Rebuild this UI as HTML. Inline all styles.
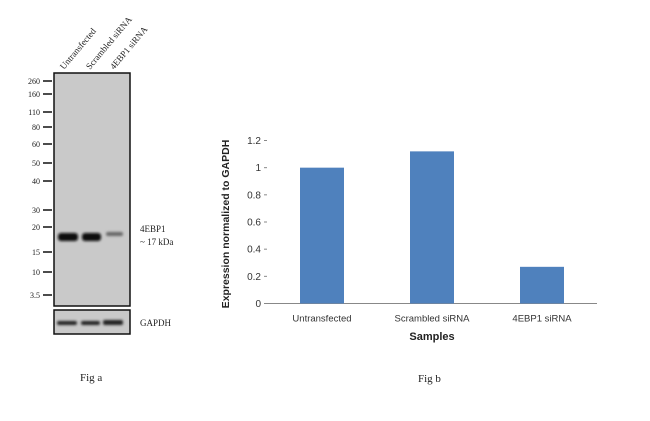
<!DOCTYPE html>
<html><head><meta charset="utf-8"><style>
body{margin:0;background:#fff;width:650px;height:421px;overflow:hidden;position:relative;font-family:"Liberation Serif",serif}
.a{position:absolute}
</style></head><body>
<svg class="a" style="left:0;top:0" width="650" height="421">
<defs><filter id="bl"><feGaussianBlur stdDeviation="1.3"/></filter></defs>
<g font-family="Liberation Serif, serif" font-size="9" fill="#222">
<text transform="translate(64,70) rotate(-50)">Untransfected</text>
<text transform="translate(90,70) rotate(-50)">Scrambled siRNA</text>
<text transform="translate(114,70) rotate(-50)">4EBP1 siRNA</text>
<rect x="54" y="73" width="76" height="233" fill="#c9c9c9" stroke="#111" stroke-width="1.5"/>
<rect x="54" y="310" width="76" height="24" fill="#c9c9c9" stroke="#111" stroke-width="1.5"/>
<g id="markers"></g>
<g filter="url(#bl)">
<rect x="58" y="233" width="20" height="8" rx="3" fill="#111"/>
<rect x="82" y="233" width="19" height="8" rx="3" fill="#111"/>
<rect x="106" y="232" width="17" height="4" rx="2" fill="#666"/>
<rect x="57" y="321" width="20" height="4" rx="2" fill="#222"/>
<rect x="81" y="321" width="19" height="4" rx="2" fill="#222"/>
<rect x="103" y="320" width="20" height="5" rx="2" fill="#222"/>
</g>
<text x="140" y="232">4EBP1</text>
<text x="140" y="245">~ 17 kDa</text>
<text x="140" y="326">GAPDH</text>
<text x="80" y="381" font-size="11">Fig a</text>
</g>
<g id="chart" font-family="Liberation Sans, sans-serif"></g>
<text x="418" y="382" font-size="11" font-family="Liberation Serif, serif" fill="#222">Fig b</text>
</svg>
<script>
const markerLabels=["260","160","110","80","60","50","40","30","20","15","10","3.5"];
const markerY=[81,94,112,127,144,163,181,210,227,252,272,295];
const categories=["Untransfected","Scrambled siRNA","4EBP1 siRNA"];
const values=[1.0,1.12,0.27];
const yTicks=[0,0.2,0.4,0.6,0.8,1,1.2];
const NS="http://www.w3.org/2000/svg";
function mk(t,a,p){const e=document.createElementNS(NS,t);for(const k in a)e.setAttribute(k,a[k]);p.appendChild(e);return e;}
const mg=document.getElementById('markers');
markerLabels.forEach((l,i)=>{
 const ln=mk('line',{x1:43,x2:52,y1:markerY[i],y2:markerY[i],stroke:'#111','stroke-width':1.5},mg);
 
 
 const t=mk('text',{x:40,y:markerY[i]+3,'text-anchor':'end','font-size':8},mg);t.textContent=l;
 
 
});
const g=document.getElementById('chart');
const x0=267,x1=597,yb=303.5,yt=140.5,ymax=1.2;
const y=v=>yb-(v/ymax)*(yb-yt);
const bw=(x1-x0)/categories.length;
const ax=mk('line',{x1:x0,x2:x1,y1:yb,y2:yb,stroke:'#888'},g);


yTicks.forEach(v=>{
 const tk=mk('line',{x1:x0-3,x2:x0,y1:y(v),y2:y(v),stroke:'#888'},g);
 
 
 const t=mk('text',{x:x0-6,y:y(v)+3.5,'text-anchor':'end','font-size':10,fill:'#333'},g);t.textContent=String(v);
 
 
});
categories.forEach((c,i)=>{
 const cx=x0+bw*(i+0.5);
 const r=mk('rect',{x:cx-22,y:y(values[i]),width:44,height:yb-y(values[i]),fill:'#4f81bd'},g);
 
 
 const t=mk('text',{x:cx,y:yb+18,'text-anchor':'middle','font-size':9.5,fill:'#333'},g);t.textContent=c;
 
 
});
const xt=mk('text',{x:432,y:340,'text-anchor':'middle','font-size':11,'font-weight':'bold',fill:'#222'},g);xt.textContent='Samples';


const yt2=mk('text',{transform:'translate(229,224) rotate(-90)','text-anchor':'middle','font-size':10.5,'font-weight':'bold',fill:'#222'},g);yt2.textContent='Expression  normalized to GAPDH';


</script>
</body></html>
